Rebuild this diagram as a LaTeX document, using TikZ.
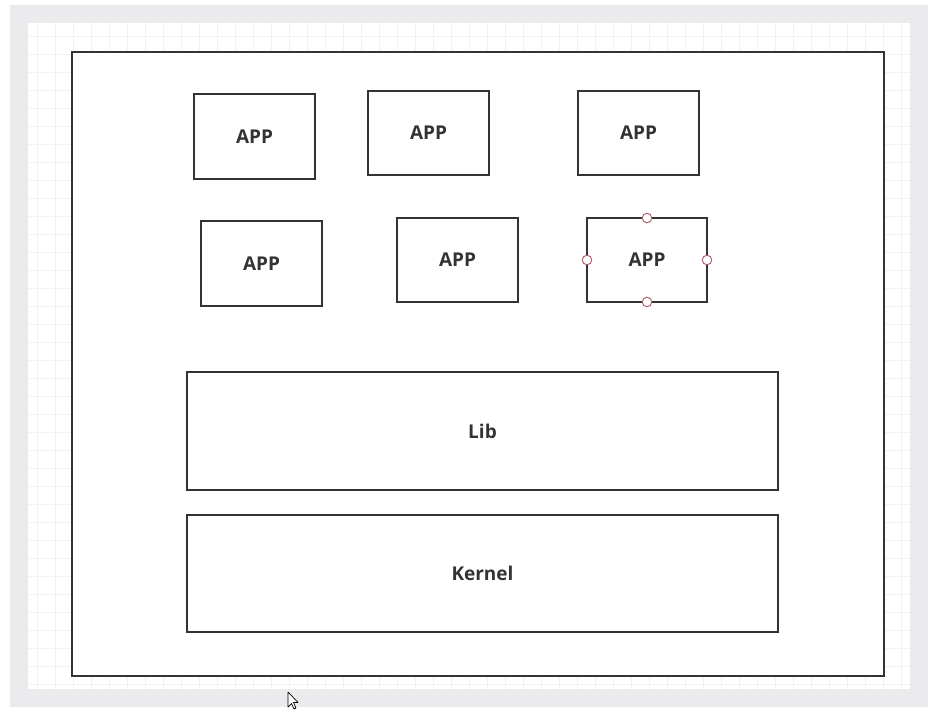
\documentclass[tikz,border=0pt]{standalone}
\usepackage{fontspec}
\setmainfont{Open Sans}
\definecolor{frame}{HTML}{EBEBED}
\definecolor{gridc}{HTML}{F2F2F4}
\definecolor{ink}{HTML}{333333}
\definecolor{handle}{HTML}{B05A6A}
\begin{document}
\begin{tikzpicture}[x=1pt,y=-1pt,
  box/.style={draw=ink,line width=1.7pt,fill=white},
  lbl/.style={font=\bfseries\fontsize{19}{22}\selectfont,text=ink},
  hdl/.style={circle,draw=handle,fill=white,line width=0.9pt,inner sep=0pt,minimum size=9.5pt}]
\useasboundingbox (0,0) rectangle (949,714);
\fill[white] (0,0) rectangle (949,714);
\fill[frame] (10,5) rectangle (928,707);
\fill[white] (28,23) rectangle (910,689);
\begin{scope}
\clip (28,23) rectangle (910,689);
\foreach \x in {0,...,49} \draw[gridc,line width=0.8pt] (37+18*\x,23) -- (37+18*\x,689);
\foreach \y in {0,...,37} \draw[gridc,line width=0.8pt] (28,36+18*\y) -- (910,36+18*\y);
\end{scope}
% outer container
\draw[box] (72,52) rectangle (884,676);
% apps
\draw[box] (194,94) rectangle (315,179) node[lbl,midway] (a1) {APP};
\draw[box] (368,91) rectangle (489,175) node[lbl,midway] (a2) {APP};
\draw[box] (578,91) rectangle (699,175) node[lbl,midway] (a3) {APP};
\draw[box] (201,221) rectangle (322,306) node[lbl,midway] (a4) {APP};
\draw[box] (397,218) rectangle (518,302) node[lbl,midway] (a5) {APP};
\draw[box] (587,218) rectangle (707,302) node[lbl,midway] (a6) {APP};
\node[hdl] (h1) at (647,218) {};
\node[hdl] (h2) at (647,302) {};
\node[hdl] (h3) at (587,260) {};
\node[hdl] (h4) at (707,260) {};
% layers
\draw[box] (187,372) rectangle (778,490) node[lbl,midway] (lib) {Lib};
\draw[box] (187,515) rectangle (778,632) node[lbl,midway] (ker) {Kernel};
% cursor
\draw[black,fill=white,line width=0.7pt,line join=round] (288,692) -- (288,707) -- (291.5,703.5) -- (294,709) -- (296,708) -- (293.5,702.5) -- (298,702.5) -- cycle;
\end{tikzpicture}
\end{document}
